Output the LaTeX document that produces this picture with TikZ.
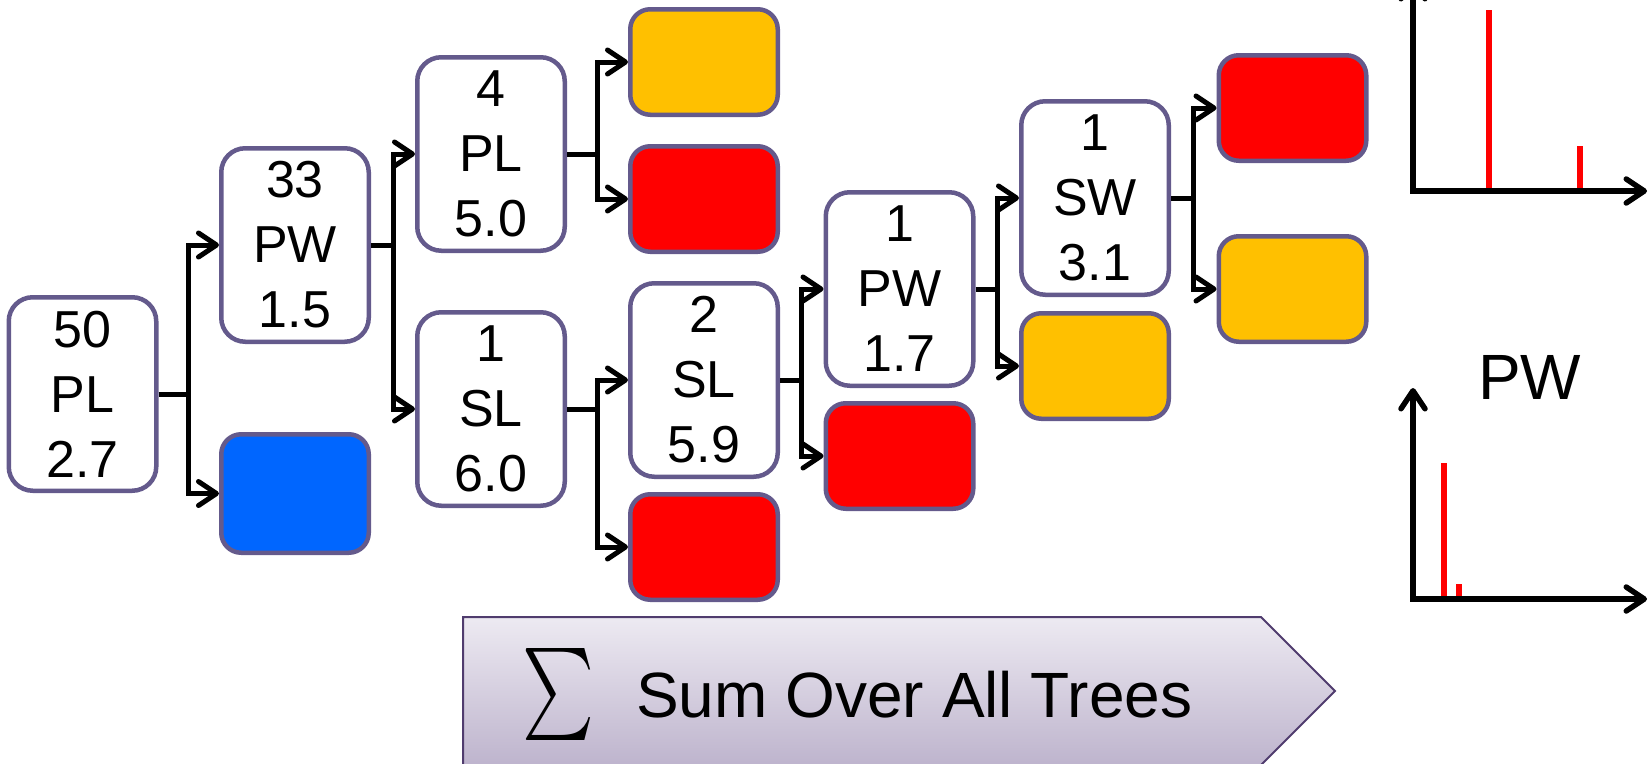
\documentclass[tikz,border=0pt]{standalone}
\usepackage{fontspec}
\setmainfont{Liberation Sans}
\usepackage{graphicx}
\usetikzlibrary{arrows.meta,calc}
\definecolor{bord}{RGB}{100,90,140}
\definecolor{lorange}{HTML}{FFC000}
\definecolor{lred}{HTML}{FF0000}
\definecolor{lblue}{HTML}{0066FF}
\definecolor{sumtop}{RGB}{237,234,242}
\definecolor{sumbot}{RGB}{190,180,205}
\definecolor{sumbord}{RGB}{80,60,110}
\newcommand\mybranch[3]{%
  \path (#1.east) -- (#2.west |- #1.east) coordinate[pos=0.5] (#1-t);
  \draw[conn] (#1.east) -- (#1-t);
  \draw[arr] (#1-t) |- (#2.west);
  \draw[arr] (#1-t) |- (#3.west);
}
\begin{document}
\begin{tikzpicture}[x=1pt,y=-1pt,
  tbox/.style={draw=bord, line width=4.5pt, fill=white, rounded corners=24pt,
    minimum width=147.5pt, minimum height=193.5pt, inner sep=0pt, align=center,
    font=\fontsize{52}{65}\selectfont},
  cbox/.style={draw=bord, line width=4.5pt, rounded corners=20pt,
    minimum width=147.5pt, minimum height=105.5pt, inner sep=0pt},
  conn/.style={line width=5pt, draw=black},
  arr/.style={conn, -{Straight Barb[length=18pt,width=24pt,round]}},
  axisln/.style={line width=5.5pt, draw=black,
    {Straight Barb[length=18pt,width=24pt,round]}-{Straight Barb[length=18pt,width=24pt,round]}},
  redbar/.style={draw=lred, line width=6.5pt}
]
\useasboundingbox (0,0) rectangle (1651,763);
\clip (0,0) rectangle (1651,763);

% tree nodes
\node[tbox] (n50) at (82.5,394) {50\\PL\\2.7};
\node[tbox] (n33) at (295,245) {33\\PW\\1.5};
\node[cbox, fill=lblue, minimum height=118.5pt] (blue) at (295,493.5) {};
\node[tbox] (n4) at (491,154) {4\\PL\\5.0};
\node[tbox] (n1sl) at (491,409) {1\\SL\\6.0};
\node[cbox, fill=lorange] (o1) at (704,62) {};
\node[cbox, fill=lred] (r1) at (704,199) {};
\node[tbox] (n2) at (704,380) {2\\SL\\5.9};
\node[cbox, fill=lred] (r2) at (704,547) {};
\node[tbox] (n1pw) at (899.5,289) {1\\PW\\1.7};
\node[cbox, fill=lred] (r3) at (899.5,456) {};
\node[tbox] (n1sw) at (1095,198) {1\\SW\\3.1};
\node[cbox, fill=lorange] (o2) at (1095,366) {};
\node[cbox, fill=lred] (r4) at (1292.5,108) {};
\node[cbox, fill=lorange] (o3) at (1292.5,289) {};

% connectors
\mybranch{n50}{n33}{blue}
\mybranch{n33}{n4}{n1sl}
\mybranch{n4}{o1}{r1}
\mybranch{n1sl}{n2}{r2}
\mybranch{n2}{n1pw}{r3}
\mybranch{n1pw}{n1sw}{o2}
\mybranch{n1sw}{r4}{o3}

% chart 1
\draw[redbar] (1489,191) -- (1489,10);
\draw[redbar] (1580,191) -- (1580,146);
\coordinate (c1y) at (1413,-22);
\coordinate (c1o) at (1413,191);
\coordinate (c1x) at (1647,191);
\draw[axisln] (c1y) -- (c1o) -- (c1x);

% chart 2
\draw[redbar] (1444,599) -- (1444,463);
\draw[redbar] (1459,599) -- (1459,584);
\coordinate (c2y) at (1413,388);
\coordinate (c2o) at (1413,599);
\coordinate (c2x) at (1647,599);
\draw[axisln] (c2y) -- (c2o) -- (c2x);
\node[anchor=base west, inner sep=0pt, font=\fontsize{64}{64}\selectfont] (pwlab) at (1478,399) {PW};

% sum arrow
\path[draw=sumbord, line width=2pt, top color=sumtop, bottom color=sumbot]
  (463,617) -- (1261,617) -- (1335,691) -- (1261,765) -- (463,765) -- cycle;
\node[inner sep=0pt] (sig) at (558,694) {\resizebox*{72pt}{92pt}{$\sum$}};
\node[anchor=base west, inner sep=0pt, font=\fontsize{64}{64}\selectfont] (sumtxt) at (636,717) {Sum Over All Trees};
\end{tikzpicture}
\end{document}
